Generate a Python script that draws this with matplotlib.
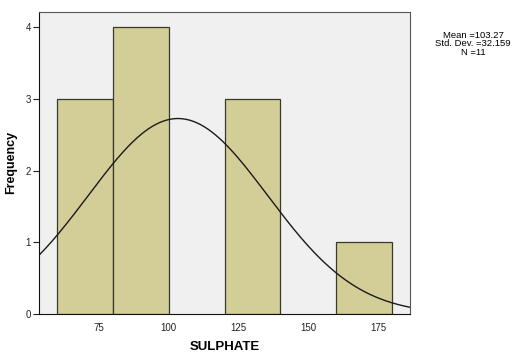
import numpy as np
import matplotlib
matplotlib.use('Agg')
import matplotlib.pyplot as plt

# histogram bins and counts
bin_left = [60, 80, 120, 160]
bin_width = 20
counts = [3, 4, 3, 1]

mean = 103.27
std_dev = 32.159
n_obs = 11

x_ticks = [75, 100, 125, 150, 175]
y_ticks = [0, 1, 2, 3, 4]

plt.rcParams['font.family'] = ['Liberation Sans', 'DejaVu Sans']

fig = plt.figure(figsize=(5.12, 3.53), dpi=100)
ax = fig.add_axes([0.077, 0.11, 0.724, 0.857])
ax.set_facecolor('#f0f0f0')

ax.bar(bin_left, counts, width=bin_width, align='edge',
       color='#d3ce97', edgecolor='#3a3a2a', linewidth=0.9)

# normal curve scaled to the histogram
xs = np.linspace(53.6, 186.5, 300)
ys = n_obs * bin_width / (std_dev * np.sqrt(2 * np.pi)) * np.exp(-0.5 * ((xs - mean) / std_dev) ** 2)
ax.plot(xs, ys, color='#1a1a1a', linewidth=1.0)

ax.set_xlim(53.6, 186.5)
ax.set_ylim(0, 4.22)
ax.set_xticks(x_ticks)
ax.set_yticks(y_ticks)
ax.tick_params(axis='both', direction='out', length=4, width=0.8,
               labelsize=7, colors='#222222', pad=2)
ax.tick_params(axis='x', length=0, pad=6)
for s in ax.spines.values():
    s.set_color('#555555')
    s.set_linewidth(0.8)
ax.spines['left'].set_color('#111111')
ax.spines['bottom'].set_color('#111111')

ax.set_xlabel('SULPHATE', fontsize=9.5, fontweight='bold', labelpad=6)
ax.set_ylabel('Frequency', fontsize=9, fontweight='bold', labelpad=6)

fig.text(0.924, 0.876, 'Mean =103.27\nStd. Dev. =32.159\nN =11',
         ha='center', va='center', fontsize=6.8, linespacing=0.9)

fig.savefig('out.png', dpi=100)
